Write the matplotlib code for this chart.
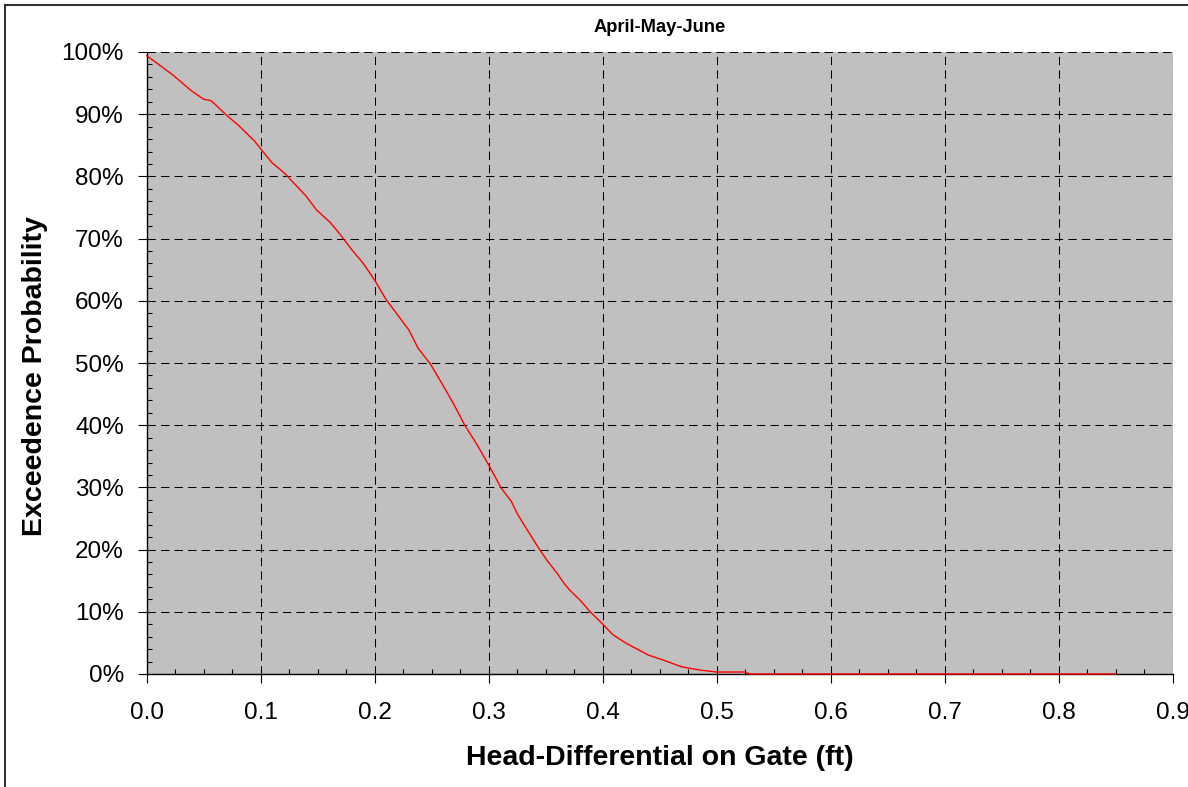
import matplotlib
matplotlib.use("Agg")
import matplotlib.pyplot as plt
from matplotlib.ticker import MultipleLocator, FuncFormatter
from matplotlib.lines import Line2D

plt.rcParams['font.family'] = ['Liberation Sans', 'DejaVu Sans']

title = "April-May-June"
xlabel = "Head-Differential on Gate (ft)"
ylabel = "Exceedence Probability"

head_ft = [0.000, 0.009, 0.023, 0.039, 0.050, 0.056, 0.060, 0.069, 0.080, 0.095,
           0.101, 0.110, 0.121, 0.140, 0.149, 0.161, 0.170, 0.180, 0.190, 0.200,
           0.210, 0.219, 0.230, 0.238, 0.249, 0.259, 0.269, 0.279, 0.290, 0.300,
           0.311, 0.320, 0.325, 0.333, 0.344, 0.351, 0.360, 0.366, 0.371, 0.380,
           0.389, 0.398, 0.409, 0.421, 0.440, 0.453, 0.469, 0.485, 0.500, 0.525,
           0.529, 0.600, 0.700, 0.800, 0.850]
exceed_pct = [99.4, 98.2, 96.3, 93.8, 92.4, 92.2, 91.6, 90.0, 88.3, 85.6,
              84.2, 82.2, 80.5, 76.8, 74.6, 72.6, 70.6, 68.2, 66.0, 63.3,
              60.2, 58.0, 55.3, 52.4, 49.8, 46.7, 43.5, 40.0, 36.8, 33.6,
              29.9, 27.7, 25.8, 23.4, 20.2, 18.3, 16.2, 14.6, 13.5, 11.9,
              10.0, 8.4, 6.3, 4.9, 3.05, 2.25, 1.17, 0.64, 0.32, 0.32,
              0.0, 0.0, 0.0, 0.0, 0.0]

W, H = 1188, 787
fig = plt.figure(figsize=(W / 100, H / 100), dpi=100)
ax = fig.add_axes([146.7 / W, 1 - 674 / H, (1172.7 - 146.7) / W, (674 - 52) / H])
ax.set_facecolor('#c0c0c0')

ax.plot(head_ft, exceed_pct, color='red', lw=1.0, zorder=3, clip_on=False)

ax.set_xlim(0, 0.9)
ax.set_ylim(0, 100)
ax.xaxis.set_major_locator(MultipleLocator(0.1))
ax.xaxis.set_minor_locator(MultipleLocator(0.025))
ax.yaxis.set_major_locator(MultipleLocator(10))
ax.yaxis.set_minor_locator(MultipleLocator(2))
ax.xaxis.set_major_formatter(FuncFormatter(lambda v, p: f"{v:.1f}"))
ax.yaxis.set_major_formatter(FuncFormatter(lambda v, p: f"{v:.0f}%"))

ax.grid(True, which='major', color='black', lw=0.75, linestyle=(0, (8, 5)))
for s in ['top', 'right']:
    ax.spines[s].set_visible(False)
for s in ['left', 'bottom']:
    ax.spines[s].set_linewidth(1.0)
    ax.spines[s].set_color('black')

ax.tick_params(axis='both', which='major', direction='out', length=6.5, width=0.8,
               labelsize=17.5, colors='black')
ax.tick_params(axis='x', which='major', pad=14)
ax.tick_params(axis='y', which='major', pad=10)
ax.tick_params(axis='both', which='minor', direction='in', length=3.6, width=0.8)

ax.set_xlabel(xlabel, fontsize=20.5, fontweight='bold')
ax.set_ylabel(ylabel, fontsize=20.5, fontweight='bold')
ax.xaxis.set_label_coords(0.5, -0.114)
ax.yaxis.set_label_coords(-0.096, 0.479)
ax.text(0.5, 1.040, title, transform=ax.transAxes, ha='center', va='center',
        fontsize=13.2, fontweight='bold')

# outer chart border
fig.add_artist(Line2D([5 / W, 5 / W], [1 - 5 / H, 0], transform=fig.transFigure,
                      color='#333333', lw=1.5))
fig.add_artist(Line2D([5 / W, 1], [1 - 5 / H, 1 - 5 / H], transform=fig.transFigure,
                      color='#333333', lw=1.5))

fig.savefig('out.png', dpi=100)
